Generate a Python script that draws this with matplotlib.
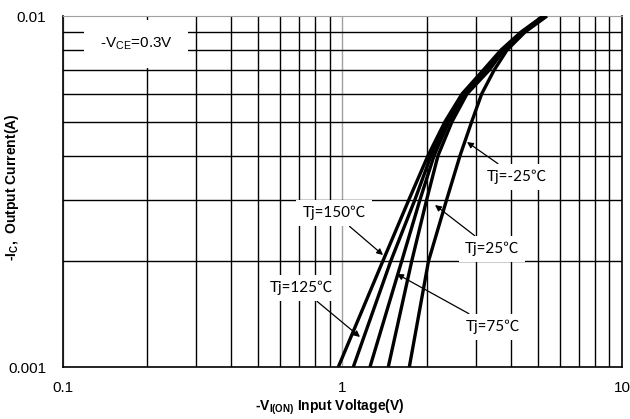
import numpy as np
import matplotlib
matplotlib.use("Agg")
import matplotlib.pyplot as plt

plt.rcParams['font.family'] = ['Liberation Sans', 'DejaVu Sans']
plt.rcParams['mathtext.fontset'] = 'custom'
plt.rcParams['mathtext.rm'] = 'Liberation Sans'
plt.rcParams['mathtext.bf'] = 'Liberation Sans:bold'

# output current levels (A) and input voltage (V) for each junction temperature
current = [0.001, 0.002, 0.003, 0.004, 0.005, 0.006, 0.007, 0.008, 0.009, 0.010]
v_150 = [0.966, 1.393, 1.729, 2.022, 2.326, 2.677, 3.183, 3.690, 4.351, 5.218]
v_125 = [1.093, 1.487, 1.817, 2.073, 2.365, 2.721, 3.235, 3.721, 4.387, 5.260]
v_75 = [1.254, 1.628, 1.894, 2.126, 2.404, 2.744, 3.289, 3.752, 4.424, 5.303]
v_25 = [1.458, 1.768, 2.001, 2.196, 2.465, 2.789, 3.344, 3.783, 4.461, 5.347]
v_m25 = [1.734, 2.030, 2.359, 2.633, 2.899, 3.148, 3.483, 3.878, 4.498, 5.391]

curves = [v_150, v_125, v_75, v_25, v_m25]
labels = ["Tj=150℃", "Tj=125℃", "Tj=75℃", "Tj=25℃", "Tj=-25℃"]

fig = plt.figure(figsize=(6.3, 4.19), dpi=100)
ax = fig.add_axes([0.1, 0.1241, 0.8873, 0.8377])

for v in curves:
    ax.plot(v, current, color='black', lw=2.4, solid_joinstyle='round',
            solid_capstyle='butt', zorder=5)

ax.set_xscale('log')
ax.set_yscale('log')
ax.set_xlim(0.1, 10)
ax.set_ylim(0.001, 0.01)

ax.grid(which='minor', color='black', lw=1.0)
ax.xaxis.grid(which='major', color='#a0a0a0', lw=1.0)
ax.set_axisbelow(True)

ax.set_xticks([0.1, 1, 10])
ax.set_xticklabels(['0.1', '1', '10'])
ax.set_yticks([0.001, 0.01])
ax.set_yticklabels(['0.001', '0.01'])
ax.xaxis.set_minor_formatter(matplotlib.ticker.NullFormatter())
ax.yaxis.set_minor_formatter(matplotlib.ticker.NullFormatter())
ax.tick_params(which='both', length=0)
ax.tick_params(axis='x', pad=10, labelsize=11)
ax.tick_params(axis='y', pad=12, labelsize=11)

for side in ['left', 'bottom', 'right']:
    ax.spines[side].set_color('black')
    ax.spines[side].set_linewidth(1.2)
ax.spines['top'].set_color('#a0a0a0')

ax.set_xlabel(r'-V$_{\mathbf{I(ON)}}$ Input Voltage(V)', fontweight='bold', fontsize=10)
ax.set_ylabel(r'-I$_{\mathbf{C}}$,  Output Current(A)', fontweight='bold', fontsize=10)
ax.xaxis.set_label_coords(0.4776, -0.088)
ax.yaxis.set_label_coords(-0.075, 0.513)

box = dict(facecolor='white', edgecolor='none', boxstyle='square,pad=0.4')
ax.text(0.1306, 0.920, r'-V$_{\mathregular{CE}}$=0.3V', transform=ax.transAxes,
        ha='center', va='center', fontsize=11,
        bbox=dict(facecolor='white', edgecolor='none', boxstyle='square,pad=1.0'))

# label positions and arrow tips in axes fraction
text_pos = [(0.4848, 0.4387), (0.4258, 0.225), (0.7692, 0.114), (0.7675, 0.336), (0.8122, 0.5413)]
tip_pos = [(0.5725, 0.319), (0.5313, 0.0855), (0.5975, 0.265), (0.6655, 0.4615), (0.7227, 0.641)]

for lab, tp, ap in zip(labels, text_pos, tip_pos):
    ax.annotate(lab, xy=ap, xycoords='axes fraction', xytext=tp, textcoords='axes fraction',
                ha='center', va='center', fontsize=11,
                family=['Lato', 'Noto Sans CJK SC', 'DejaVu Sans'],
                bbox=box, zorder=4,
                arrowprops=dict(arrowstyle='-|>', color='black', lw=0.9,
                                mutation_scale=9, shrinkA=0, shrinkB=0))

fig.savefig('out.png', dpi=100)
